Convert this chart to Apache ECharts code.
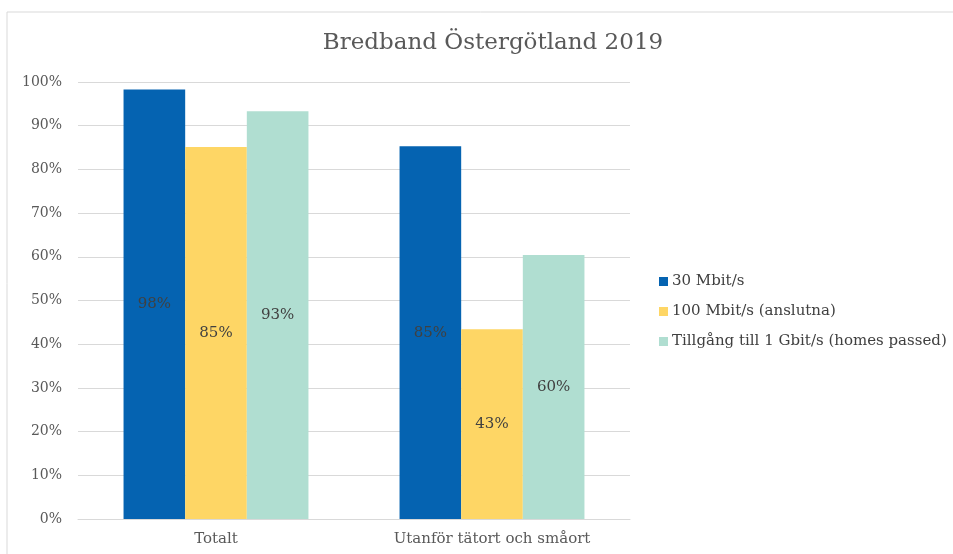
<!DOCTYPE html>
<html>
<head>
<meta charset="utf-8">
<script src="https://cdn.jsdelivr.net/npm/echarts@6/dist/echarts.min.js"></script>
<style>html,body{margin:0;padding:0;background:#fff}#c{width:953px;height:554px}</style>
</head>
<body>
<div id="c"></div>
<script>
var titleText = 'Bredband Östergötland 2019';
var categories = ['Totalt', 'Utanför tätort och småort'];
var seriesNames = ['30 Mbit/s', '100 Mbit/s (anslutna)', 'Tillgång till 1 Gbit/s (homes passed)'];
var s30 = [98.3, 85.3];
var s100 = [85.1, 43.4];
var s1g = [93.3, 60.4];
var colors = ['#0563B1', '#FED665', '#B0DED1'];
var yTicks = [0, 10, 20, 30, 40, 50, 60, 70, 80, 90, 100];

var FONT = '"DejaVu Serif", Georgia, serif';
var chart = echarts.init(document.getElementById('c'), null, {renderer: 'canvas'});
function mk(name, data, color) {
  return {
    name: name, type: 'bar', data: data, barGap: '0%', barCategoryGap: '33%',
    itemStyle: {color: color},
    label: {show: true, position: 'inside', color: '#404040', fontFamily: FONT, fontSize: 15,
      formatter: function (p) { return Math.round(p.value) + '%'; }}
  };
}
chart.setOption({
  animation: false,
  graphic: [{type: 'rect', shape: {x: 7, y: 12, width: 1000, height: 600},
    style: {fill: 'none', stroke: '#d9d9d9', lineWidth: 1}, silent: true, z: -1}],
  title: {text: titleText, left: 488, top: 27, textAlign: 'center',
    textStyle: {fontFamily: FONT, fontWeight: 'normal', fontSize: 23, color: '#595959'}},
  legend: {orient: 'vertical', left: 654, top: 269, itemWidth: 9, itemHeight: 9, itemGap: 15,
    icon: 'rect', data: seriesNames,
    textStyle: {fontFamily: FONT, fontSize: 15, color: '#404040', padding: [0, 0, 0, -1]}},
  grid: {left: 78, right: 323, top: 82, bottom: 35, containLabel: false},
  xAxis: {type: 'category', data: categories,
    axisLine: {show: true, lineStyle: {color: '#d9d9d9', width: 1}},
    axisTick: {show: false},
    axisLabel: {fontFamily: FONT, fontSize: 15, color: '#595959', margin: 13}},
  yAxis: {type: 'value', min: yTicks[0], max: yTicks[yTicks.length - 1], interval: 10,
    axisLine: {show: false}, axisTick: {show: false},
    splitLine: {lineStyle: {color: '#d9d9d9', width: 1}},
    axisLabel: {fontFamily: FONT, fontSize: 14, color: '#595959', margin: 16,
      formatter: function (v) { return v + '%'; }}},
  series: [mk(seriesNames[0], s30, colors[0]), mk(seriesNames[1], s100, colors[1]), mk(seriesNames[2], s1g, colors[2])]
});
</script>
</body>
</html>
